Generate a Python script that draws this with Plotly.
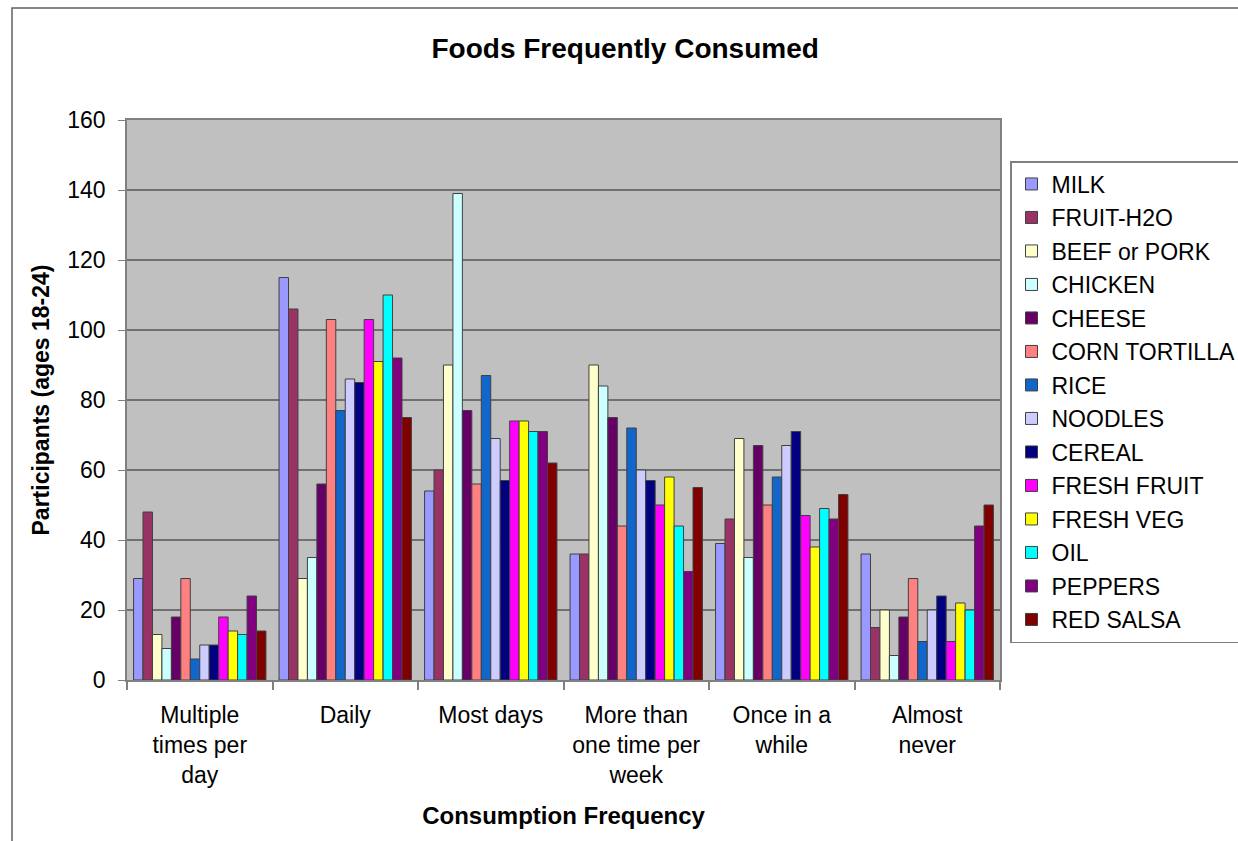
import plotly.graph_objects as go

categories = ["Multiple<br>times per<br>day", "Daily", "Most days",
              "More than<br>one time per<br>week", "Once in a<br>while", "Almost<br>never"]

series_names = ["MILK", "FRUIT-H2O", "BEEF or PORK", "CHICKEN", "CHEESE", "CORN TORTILLA",
                "RICE", "NOODLES", "CEREAL", "FRESH FRUIT", "FRESH VEG", "OIL", "PEPPERS", "RED SALSA"]

milk = [29, 115, 54, 36, 39, 36]
fruit_h2o = [48, 106, 60, 36, 46, 15]
beef_pork = [13, 29, 90, 90, 69, 20]
chicken = [9, 35, 139, 84, 35, 7]
cheese = [18, 56, 77, 75, 67, 18]
corn_tortilla = [29, 103, 56, 44, 50, 29]
rice = [6, 77, 87, 72, 58, 11]
noodles = [10, 86, 69, 60, 67, 20]
cereal = [10, 85, 57, 57, 71, 24]
fresh_fruit = [18, 103, 74, 50, 47, 11]
fresh_veg = [14, 91, 74, 58, 38, 22]
oil = [13, 110, 71, 44, 49, 20]
peppers = [24, 92, 71, 31, 46, 44]
red_salsa = [14, 75, 62, 55, 53, 50]

series_values = [milk, fruit_h2o, beef_pork, chicken, cheese, corn_tortilla, rice,
                 noodles, cereal, fresh_fruit, fresh_veg, oil, peppers, red_salsa]

colors = ["#9999FF", "#993366", "#FFFFCC", "#CCFFFF", "#660066", "#FF8080", "#1166CC",
          "#CCCCFF", "#000080", "#FF00FF", "#FFFF00", "#00FFFF", "#800080", "#800000"]

fig = go.Figure()
for name, vals, col in zip(series_names, series_values, colors):
    fig.add_trace(go.Bar(
        x=categories, y=vals, name=name, legendgroup=name,
        marker=dict(color=col, line=dict(color="#404040", width=1)),
    ))

W, H = 1238, 841
L, R, T, B = 127, 238, 120, 161
pw, ph = W - L - R, H - T - B

def px_x(p):
    return (p - L) / pw

def px_y(p):
    return (H - B - p) / ph

fig.update_layout(
    width=W, height=H,
    margin=dict(l=L, r=R, t=T, b=B, autoexpand=False),
    paper_bgcolor="white",
    plot_bgcolor="#C0C0C0",
    barmode="group",
    bargap=0.09,
    bargroupgap=0,
    font=dict(family="Liberation Sans, Arial, sans-serif", color="black", size=23),
    title=dict(text="<b>Foods Frequently Consumed</b>", x=0.505, xanchor="center",
               y=1 - 48 / H, yanchor="middle", font=dict(size=28)),
    showlegend=True,
    legend=dict(
        x=px_x(1010), xanchor="left", y=px_y(161), yanchor="top",
        bgcolor="white", bordercolor="#808080", borderwidth=1.5,
        font=dict(size=23), traceorder="grouped", tracegroupgap=0.6,
        itemwidth=30,
    ),
    xaxis=dict(
        type="category", tickson="boundaries", ticks="outside", ticklen=8,
        tickcolor="#808080", tickwidth=1.5, showline=True, linecolor="#808080",
        linewidth=1.5, mirror=True, showgrid=False,
        tickfont=dict(size=23), ticklabelstandoff=14,
        title=dict(text="<b>Consumption Frequency</b>", font=dict(size=24), standoff=20),
    ),
    yaxis=dict(
        range=[0, 160], dtick=20, ticks="outside", ticklen=7, tickcolor="#808080",
        showline=True, linecolor="#808080", linewidth=1.5, mirror=True,
        showgrid=True, gridcolor="#707070", gridwidth=2,
        tickfont=dict(size=23), zeroline=False, ticklabelstandoff=8,
        title=dict(text="<b>Participants (ages 18-24)</b>", font=dict(size=23), standoff=11),
    ),
    shapes=[dict(type="rect", xref="paper", yref="paper",
                 x0=px_x(12), x1=px_x(1260), y0=px_y(860), y1=px_y(8),
                 line=dict(color="#606060", width=1.5), fillcolor="rgba(0,0,0,0)",
                 layer="below")],
)

fig.write_html("out.html")
